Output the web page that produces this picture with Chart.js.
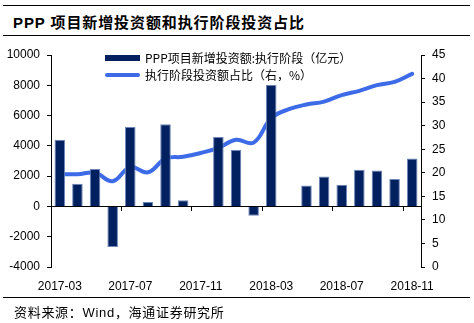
<!DOCTYPE html>
<html>
<head>
<meta charset="utf-8">
<script src="https://cdn.jsdelivr.net/npm/chart.js@4"></script>
<style>
  body { margin: 0; background: #fff; font-family: "Liberation Sans", "Noto Sans CJK SC", sans-serif; }
  #page { position: relative; width: 474px; height: 323px; overflow: hidden; }
  .rule { position: absolute; left: 3px; width: 467px; height: 0; border-top: 1.5px solid #000; }
  #title { position: absolute; left: 13px; top: 11px; font-size: 15px; font-weight: bold; letter-spacing: 0.9px; color: #000; }
  #source { position: absolute; left: 14px; top: 302px; font-size: 13px; letter-spacing: 0.7px; color: #000; }
  #chartBox { position: absolute; left: 0; top: 0; width: 474px; height: 323px; }
  #legend { position: absolute; left: 105px; top: 49px; font-size: 12px; color: #000; font-family: "Noto Sans CJK SC", sans-serif; }
  .legend-item { display: flex; align-items: center; height: 17px; }
  .legend-swatch { width: 35px; margin-right: 5px; }
</style>
</head>
<body>
<div id="page">
  <div class="rule" style="top:5px"></div>
  <div id="title">PPP 项目新增投资额和执行阶段投资占比</div>
  <div class="rule" style="top:35px"></div>
  <div id="chartBox"><canvas id="pppChart"></canvas></div>
  <div id="legend"></div>
  <div class="rule" style="top:297px"></div>
  <div id="source">资料来源：Wind，海通证券研究所</div>
</div>
<script>
// Monthly categories
const months = ['2017-03', '2017-04', '2017-05', '2017-06', '2017-07', '2017-08', '2017-09',
    '2017-10', '2017-11', '2017-12', '2018-01', '2018-02', '2018-03', '2018-04',
    '2018-05', '2018-06', '2018-07', '2018-08', '2018-09', '2018-10', '2018-11'];

// New investment in execution stage (100 million yuan)
const newInvestment = [4400, 1500, 2470, -2680, 5240, 290, 5420,
    400, null, 4580, 3720, -610, 8040, null,
    1390, 1980, 1430, 2420, 2380, 1810, 3170];

// Execution stage share of investment (%, right axis)
const executionShare = [19.7, 19.7, 20.0, 18.2, 21.2, 20.1, 23.0,
    23.4, 24.2, 25.3, 27.0, 26.4, 31.6, 33.5,
    34.5, 35.1, 36.5, 37.4, 38.6, 39.3, 41.0];

const leftTicks = { min: -4000, max: 10000, step: 2000 };
const rightTicks = { min: 0, max: 45, step: 5 };

const barColor = '#002060';
const lineColor = '#3d6be8';
const axisFont = { family: '"Liberation Sans", Arial, sans-serif', size: 12 };

const ctx = document.getElementById('pppChart').getContext('2d');
const pppChart = new Chart(ctx, {
    type: 'bar',
    data: {
        labels: months,
        datasets: [{
            type: 'bar',
            label: 'PPP项目新增投资额:执行阶段（亿元）',
            data: newInvestment,
            backgroundColor: barColor,
            borderColor: '#6f86b8',
            borderWidth: 1,
            categoryPercentage: 1,
            barPercentage: 0.6,
            xAxisID: 'x',
            yAxisID: 'y'
        }, {
            type: 'line',
            label: '执行阶段投资额占比（右，%）',
            data: executionShare,
            borderColor: lineColor,
            backgroundColor: lineColor,
            borderWidth: 4,
            borderCapStyle: 'round',
            tension: 0.4,
            pointRadius: 0,
            fill: false,
            xAxisID: 'x',
            yAxisID: 'y1'
        }]
    },
    options: {
        responsive: true,
        maintainAspectRatio: false,
        animation: false,
        layout: { padding: { top: 55, left: 0, right: 0, bottom: 0 } },
        plugins: {
            legend: { display: false },
            tooltip: { enabled: false }
        },
        scales: {
            x: {
                position: 'bottom',
                offset: true,
                afterFit: function (scale) { scale.height = 56; },
                grid: { display: false },
                border: { display: false },
                ticks: {
                    autoSkip: false,
                    maxRotation: 0,
                    padding: 4,
                    color: '#000',
                    font: axisFont,
                    callback: function (value, index) {
                        return index % 4 === 0 ? this.getLabelForValue(value) : '';
                    }
                }
            },
            // axis line drawn at the zero value of the left axis
            xZero: {
                type: 'category',
                position: { y: 0 },
                offset: true,
                grid: {
                    offset: true,
                    drawOnChartArea: false,
                    drawTicks: true,
                    tickLength: 4,
                    color: function (c) { return c.index % 4 === 0 ? '#000' : 'rgba(0,0,0,0)'; }
                },
                border: { display: true, color: '#000', width: 1 },
                ticks: { display: false }
            },
            y: {
                position: 'left',
                min: leftTicks.min,
                max: leftTicks.max,
                afterFit: function (scale) { scale.width = 51; },
                grid: { drawOnChartArea: false, drawTicks: true, tickLength: 4, color: '#000' },
                border: { display: true, color: '#000', width: 1 },
                ticks: {
                    stepSize: leftTicks.step, padding: 7, color: '#000', font: axisFont,
                    callback: function (value) { return String(value); }
                }
            },
            y1: {
                position: 'right',
                min: rightTicks.min,
                max: rightTicks.max,
                afterFit: function (scale) { scale.width = 53; },
                grid: { drawOnChartArea: false, drawTicks: true, tickLength: 4, color: '#000' },
                border: { display: true, color: '#000', width: 1 },
                ticks: {
                    stepSize: rightTicks.step, padding: 7, color: '#000', font: axisFont,
                    callback: function (value) { return String(value); }
                }
            }
        }
    }
});

// Legend built from the chart's datasets
const legendEl = document.getElementById('legend');
pppChart.data.datasets.forEach(function (ds) {
    const item = document.createElement('div');
    item.className = 'legend-item';
    const swatch = document.createElement('span');
    swatch.className = 'legend-swatch';
    if (ds.type === 'bar') {
        swatch.style.height = '6px';
        swatch.style.background = ds.backgroundColor;
    } else {
        swatch.style.height = '4px';
        swatch.style.borderRadius = '2px';
        swatch.style.background = ds.borderColor;
    }
    const text = document.createElement('span');
    text.textContent = ds.label;
    item.appendChild(swatch);
    item.appendChild(text);
    legendEl.appendChild(item);
});
</script>
</body>
</html>
